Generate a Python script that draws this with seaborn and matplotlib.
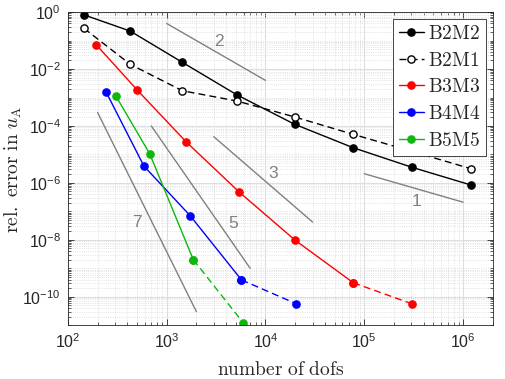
import matplotlib
matplotlib.use('Agg')  # headless

import matplotlib.pyplot as plt
import seaborn as sns
import numpy as np
import pandas as pd

# dofs / relative errors
b2m2_dofs = [146, 429, 1443, 5160, 19700, 76900, 302000, 1190000]
b2m2_err = [0.80, 0.215, 0.0172, 1.23e-3, 1.15e-4, 1.73e-5, 3.55e-6, 8.5e-7]

b2m1_dofs = [146, 429, 1443, 5160, 19700, 76900, 302000, 1190000]
b2m1_err = [0.268, 0.0146, 1.73e-3, 7.5e-4, 2.08e-4, 5.1e-5, 1.29e-5, 3.17e-6]

b3m3_dofs = [194, 504, 1570, 5450, 20100, 77400, 305000]
b3m3_err = [0.0713, 1.83e-3, 2.8e-5, 4.7e-7, 9.5e-9, 3.1e-10, 5.6e-11]

b4m4_dofs = [244, 589, 1726, 5720, 20600]
b4m4_err = [1.56e-3, 3.9e-6, 7.1e-8, 3.9e-10, 5.6e-11]

b5m5_dofs = [305, 673, 1862, 5940]
b5m5_err = [1.16e-3, 1.07e-5, 2.0e-9, 1.23e-11]

# reference slopes: (x0, x1), (y0, y1), label position
slope_labels = ["2", "1", "3", "5", "7"]
slope_x = [(1e3, 1e4), (1e5, 1e6), (3e3, 3e4), (7e2, 7e3), (2e2, 2e3)]
slope_y = [(4e-1, 4e-3), (2.1e-6, 2.1e-7), (4.2e-5, 4.2e-8), (1e-4, 1e-9), (3e-4, 3e-11)]
label_xy = [(3.4e3, 0.096), (3.35e5, 2.2e-7), (1.2e4, 2.2e-6), (4.7e3, 3.6e-8), (5.0e2, 3.9e-8)]

sns.set_theme(style="ticks")
plt.rcParams['font.family'] = ['Liberation Sans', 'DejaVu Sans']
plt.rcParams['mathtext.fontset'] = 'custom'
plt.rcParams['mathtext.rm'] = 'Liberation Sans'
plt.rcParams['mathtext.it'] = 'Liberation Sans:italic'
plt.rcParams['mathtext.bf'] = 'Liberation Sans:bold'

fig = plt.figure(figsize=(5.06, 3.79), dpi=100)
ax = fig.add_axes([0.134, 0.142, 0.840, 0.826])

ms = 5.2
green = (0.05, 0.72, 0.05)
series = [
    ("B2M2", b2m2_dofs, b2m2_err, "black", "black", None),   # all solid
    ("B2M1", b2m1_dofs, b2m1_err, "black", "white", 0),      # all dashed
    ("B3M3", b3m3_dofs, b3m3_err, "red", "red", -1),
    ("B4M4", b4m4_dofs, b4m4_err, "blue", "blue", -1),
    ("B5M5", b5m5_dofs, b5m5_err, green, green, -1),
]

for name, dofs, err, col, face, dash_from in series:
    df = pd.DataFrame({"dofs": dofs, "err": err})
    n = len(df)
    if dash_from is None:
        solid, dashed = df, None
    elif dash_from == 0:
        solid, dashed = None, df
    else:
        solid, dashed = df.iloc[:n - 1], df.iloc[n - 2:]
    if dashed is not None:
        sns.lineplot(data=dashed, x="dofs", y="err", ax=ax, color=col,
                     linestyle=(0, (5, 3)), linewidth=1.0, marker="o", markersize=ms,
                     markerfacecolor=face, markeredgecolor=col, markeredgewidth=1.0,
                     estimator=None, sort=False,
                     label=name if solid is None else None, legend=False)
    if solid is not None:
        sns.lineplot(data=solid, x="dofs", y="err", ax=ax, color=col,
                     linewidth=1.0, marker="o", markersize=ms,
                     markerfacecolor=face, markeredgecolor=col, markeredgewidth=1.0,
                     estimator=None, sort=False, label=name, legend=False)

for lab, xs, ys, (tx, ty) in zip(slope_labels, slope_x, slope_y, label_xy):
    ax.plot(xs, ys, color=(0.5, 0.5, 0.5), linewidth=1.0)
    ax.text(tx, ty, lab, color=(0.5, 0.5, 0.5), fontsize=12.5,
            ha="center", va="center")

ax.set_xscale("log")
ax.set_yscale("log")
ax.set_xlim(1e2, 2e6)
ax.set_ylim(1e-11, 1)

ax.set_xticks([1e2, 1e3, 1e4, 1e5, 1e6])
ax.set_yticks([1e0, 1e-2, 1e-4, 1e-6, 1e-8, 1e-10])
ax.yaxis.set_minor_locator(matplotlib.ticker.LogLocator(base=10, subs=np.arange(1, 10), numticks=50))
ax.xaxis.set_minor_locator(matplotlib.ticker.LogLocator(base=10, subs=np.arange(1, 10), numticks=50))
ax.yaxis.set_minor_formatter(matplotlib.ticker.NullFormatter())
ax.xaxis.set_minor_formatter(matplotlib.ticker.NullFormatter())

ax.grid(True, which="major", color=(0.87, 0.87, 0.87), linewidth=0.8)
ax.grid(True, which="minor", color=(0.85, 0.85, 0.85), linewidth=0.6, linestyle=":")
ax.set_axisbelow(True)

ax.tick_params(which="both", direction="in", top=True, right=True,
               labelsize=11.5, colors=(0.15, 0.15, 0.15))
ax.tick_params(which="major", length=4, width=0.6, pad=5)
ax.tick_params(which="minor", length=2, width=0.5)
for sp in ax.spines.values():
    sp.set_color((0.15, 0.15, 0.15))
    sp.set_linewidth(0.6)

ax.set_xlabel(r"$\mathrm{number\ of\ dofs}$", fontsize=14, math_fontfamily="cm")
ax.set_ylabel(r"$\mathrm{rel.\ error\ in\ }u_\mathrm{A}$", fontsize=14,
              math_fontfamily="cm")
ax.xaxis.set_label_coords(0.5, -0.115)
ax.yaxis.set_label_coords(-0.104, 0.5)

handles, labels = ax.get_legend_handles_labels()
order = ["B2M2", "B2M1", "B3M3", "B4M4", "B5M5"]
hmap = dict(zip(labels, handles))
leg = ax.legend([hmap[k] for k in order], [rf"$\mathrm{{{k}}}$" for k in order],
                loc="upper right", fontsize=14, frameon=True, fancybox=False,
                edgecolor=(0.15, 0.15, 0.15), framealpha=1, handlelength=1.3,
                handletextpad=0.2, borderpad=0.3, labelspacing=0.45,
                borderaxespad=0.35)
leg.get_frame().set_linewidth(0.6)
for t in leg.get_texts():
    t.set_math_fontfamily("cm")

fig.savefig("out.png", dpi=100)
